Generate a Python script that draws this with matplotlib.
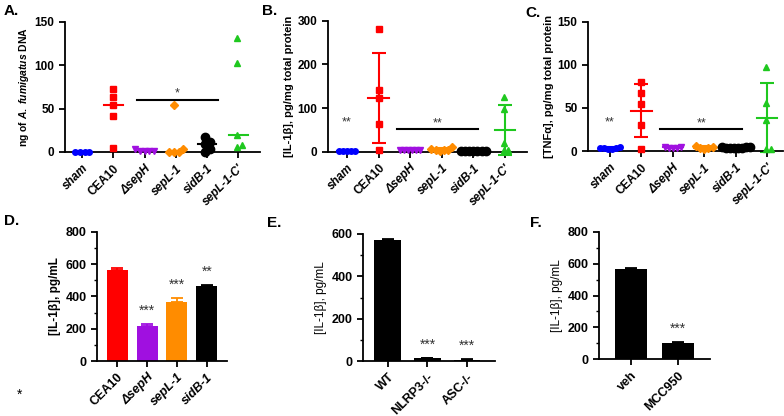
import numpy as np
import matplotlib
matplotlib.use('Agg')
import matplotlib.pyplot as plt

plt.rcParams['font.family'] = ['Liberation Sans', 'DejaVu Sans']
plt.rcParams['mathtext.fontset'] = 'custom'
plt.rcParams['mathtext.it'] = 'Liberation Sans:italic:bold'
plt.rcParams['mathtext.rm'] = 'Liberation Sans:bold'

# strains for the in vivo panels
strains = ['sham', 'CEA10', 'ΔsepH', 'sepL-1', 'sidB-1', "sepL-1-C'"]
italic_names = {'sham', 'ΔsepH', 'sepL-1', 'sidB-1', "sepL-1-C'"}
colors = ['#0000FF', '#FF0000', '#A010E0', '#FF8C00', '#000000', '#1FC81F']
markers = ['o', 's', 'v', 'D', 'o', '^']
msizes = [4, 5, 5, 4, 6, 5]

# A: fungal burden (median)
dna_vals = [
    [0, 0, 0, 0],
    [73, 63, 54, 41, 5],
    [3, 1, 1, 1, 1],
    [54, 3, 0, 0, 0],
    [17, 12, 9, 4, 0],
    [131, 102, 19, 8, 6],
]
# B: IL-1b (mean +- SD)
il1b_vals = [
    [2, 1, 1, 1, 1],
    [280, 141, 124, 63, 4],
    [4, 4, 3, 3, 3, 3],
    [10, 7, 5, 4, 3, 2],
    [2, 2, 2, 2, 2, 2, 1],
    [125, 98, 20, 5, 3],
]
# C: TNFa (mean +- SD)
tnf_vals = [
    [5, 4, 4, 3, 2, 2],
    [80, 67, 55, 30, 2],
    [5, 5, 4, 4, 3],
    [6, 5, 4, 3, 2],
    [5, 5, 5, 4, 4, 4, 3, 3],
    [98, 56, 36, 2, 2],
]

# D-F: in vitro IL-1b
d_names = ['CEA10', 'ΔsepH', 'sepL-1', 'sidB-1']
d_means = [565, 218, 365, 462]
d_err = [8, 10, 22, 6]
d_colors = ['#FF0000', '#A010E0', '#FF8C00', '#000000']
d_stars = ['', '***', '***', '**']

e_names = ['WT', 'NLRP3-/-', 'ASC-/-']
e_means = [570, 12, 5]
e_err = [5, 3, 3]
e_stars = ['', '***', '***']

f_names = ['veh', 'MCC950']
f_means = [570, 103]
f_err = [5, 4]
f_stars = ['', '***']

W, H = 784, 416
fig = plt.figure(figsize=(W / 100, H / 100), dpi=100)


def ax_at(x0, x1, ytop, ybot):
    return fig.add_axes([x0 / W, 1 - ybot / H, (x1 - x0) / W, (ybot - ytop) / H])


def style(ax, names, ylabel, fs=8.5, lfs=8, bold_label=True):
    for s in ['top', 'right']:
        ax.spines[s].set_visible(False)
    for s in ['left', 'bottom']:
        ax.spines[s].set_linewidth(1.3)
    ax.tick_params(width=1.3, length=4, labelsize=fs)
    ax.tick_params(which='minor', width=1.0, length=2.5)
    ax.set_xticks(range(len(names)))
    ax.set_xticklabels(names, rotation=45, ha='right', rotation_mode='anchor',
                       fontweight='bold')
    for lab in ax.get_xticklabels():
        if lab.get_text() in italic_names:
            lab.set_fontstyle('italic')
    for lab in ax.get_yticklabels():
        lab.set_fontweight('bold')
    ax.set_ylabel(ylabel, fontsize=lfs, fontweight='bold' if bold_label else 'normal',
                  labelpad=3)


def swarm(vals, w, h):
    # simple beeswarm: sorted by value, first free offset wins
    placed = []
    offs = []
    for v in vals:
        k = 0
        while True:
            cand = [0.0] if k == 0 else [k * w, -k * w]
            ok = None
            for c in cand:
                if all(not (abs(v - pv) < h and abs(c - po) < w * 0.99) for pv, po in placed):
                    ok = c
                    break
            if ok is not None:
                placed.append((v, ok))
                offs.append(ok)
                break
            k += 1
    shift = np.mean(offs)
    return [o - shift for o in offs]


def dot_panel(ax, data, ymax, center='median', w=0.15, hf=0.05):
    for i, vals in enumerate(data):
        vals = sorted(vals)
        offs = swarm(vals, w, ymax * hf)
        ax.plot([i + o for o in offs], vals, linestyle='none', marker=markers[i],
                ms=msizes[i], color=colors[i], mec=colors[i], clip_on=False, zorder=3)
        if center == 'median':
            m = np.median(vals)
            ax.plot([i - 0.3, i + 0.3], [m, m], color=colors[i], lw=1.5, zorder=2)
        else:
            m = np.mean(vals)
            sd = np.std(vals, ddof=1)
            ax.plot([i - 0.32, i + 0.32], [m, m], color=colors[i], lw=1.5, zorder=2)
            ax.errorbar(i, m, yerr=sd, color=colors[i], capsize=5, capthick=1.5,
                        elinewidth=1.5, zorder=2, clip_on=False)
    ax.set_ylim(0, ymax)


def sig_line(ax, x0, x1, y, txt, dy):
    ax.plot([x0, x1], [y, y], color='black', lw=1.5)
    ax.text((x0 + x1) / 2, y + dy, txt, ha='center', va='center', fontsize=9, color='#333333')


# ---- A ----
axA = ax_at(65, 260, 21.7, 152)
dot_panel(axA, dna_vals, 150, 'median')
axA.set_xlim(-0.55, 5.7)
axA.set_yticks([0, 50, 100, 150])
style(axA, strains, r'ng of $\mathit{A.\ fumigatus}$ DNA', lfs=7.5)
sig_line(axA, 1.76, 4.36, 60, '*', 7)

# ---- B ----
axB = ax_at(328, 527, 20.7, 151.7)
dot_panel(axB, il1b_vals, 300, 'mean', w=0.13, hf=0.03)
axB.set_xlim(-0.6, 5.7)
axB.set_yticks([0, 100, 200, 300])
style(axB, strains, '[IL-1β], pg/mg total protein')
sig_line(axB, 1.6, 4.15, 52, '**', 12)
axB.text(0, 66, '**', ha='center', va='center', fontsize=9, color='#333333')

# ---- C ----
axC = ax_at(588, 783, 21.7, 151)
dot_panel(axC, tnf_vals, 150, 'mean', w=0.13, hf=0.03)
axC.set_xlim(-0.7, 5.5)
axC.set_yticks([0, 50, 100, 150])
style(axC, strains, '[TNFα], pg/mg total protein')
sig_line(axC, 1.6, 4.2, 26, '**', 6)
axC.text(0, 33, '**', ha='center', va='center', fontsize=9, color='#333333')


def bar_panel(ax, names, means, errs, cols, stars, ymax, step, width):
    x = np.arange(len(names))
    ax.bar(x, means, width=width, color=cols, zorder=2)
    for i in range(len(names)):
        ax.errorbar(x[i], means[i], yerr=[[0], [errs[i]]], color=cols[i], capsize=4,
                    capthick=1.3, elinewidth=1.3, zorder=3)
        if stars[i]:
            ax.text(x[i], means[i] + errs[i] + ymax * 0.05, stars[i], ha='center',
                    va='bottom', fontsize=10, color='#333333')
    ax.set_ylim(0, ymax)
    ax.set_yticks(np.arange(0, ymax + 1, step))
    ax.set_yticks(np.arange(0, ymax + 1, step / 2), minor=True)


# ---- D ----
axD = ax_at(97, 227, 231.7, 361)
bar_panel(axD, d_names, d_means, d_err, d_colors, d_stars, 800, 200, 0.7)
axD.set_xlim(-0.67, 3.67)
style(axD, d_names, '[IL-1β], pg/mL', fs=9, lfs=8.5)

# ---- E ----
axE = ax_at(363, 495, 234, 361)
bar_panel(axE, e_names, e_means, e_err, ['black'] * 3, e_stars, 600, 200, 0.68)
axE.set_xlim(-0.63, 2.71)
style(axE, e_names, '[IL-1β], pg/mL', fs=9, lfs=8.5, bold_label=False)

# ---- F ----
axF = ax_at(599, 710, 232, 359)
bar_panel(axF, f_names, f_means, f_err, ['black'] * 2, f_stars, 800, 200, 0.66)
axF.set_xlim(-0.68, 1.68)
style(axF, f_names, '[IL-1β], pg/mL', fs=9, lfs=8.5, bold_label=False)

# panel letters
for lbl, x, y in [('A.', 4, 4), ('B.', 262, 4), ('C.', 525, 6),
                  ('D.', 4, 214), ('E.', 267, 216), ('F.', 530, 216)]:
    fig.text(x / W, 1 - y / H, lbl, fontsize=11, fontweight='bold', va='top', ha='left')
fig.text(20 / W, 1 - 395 / H, '*', fontsize=10, va='center', ha='center')

fig.savefig('out.png', dpi=100)
